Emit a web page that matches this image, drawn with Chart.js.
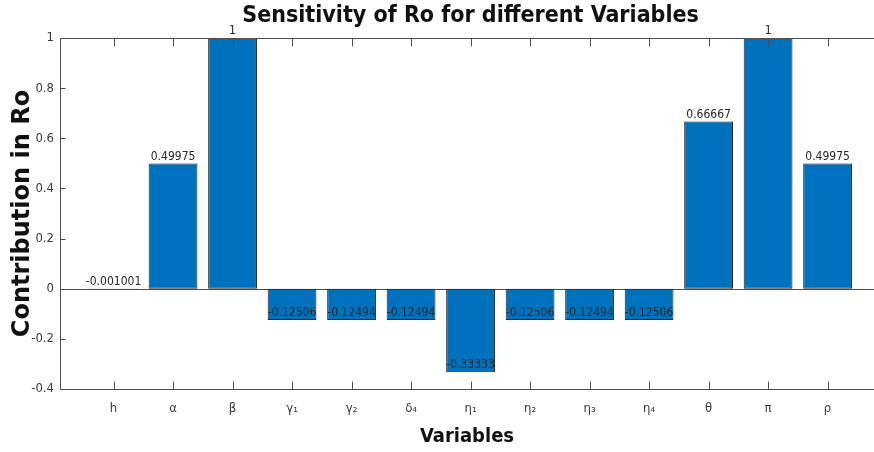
<!DOCTYPE html>
<html>
<head>
<meta charset="utf-8">
<script src="https://cdn.jsdelivr.net/npm/chart.js@4.4.1/dist/chart.umd.min.js"></script>
<style>
  html, body { margin: 0; padding: 0; background: #fff; }
  #wrap { width: 874px; height: 452px; }
</style>
</head>
<body>
<div id="wrap"><canvas id="chart" width="874" height="452"></canvas></div>
<script>
const variables = ['h', 'α', 'β', 'γ₁', 'γ₂', 'δ₄', 'η₁', 'η₂', 'η₃', 'η₄', 'θ', 'π', 'ρ'];
const contribution = [-0.001001, 0.49975, 1, -0.12506, -0.12494, -0.12494, -0.33333, -0.12506, -0.12494, -0.12506, 0.66667, 1, 0.49975];
const yTicks = [-0.4, -0.2, 0, 0.2, 0.4, 0.6, 0.8, 1];

const AXIS_COLOR = '#4d4d4d';
const TEXT_COLOR = '#3a3a3a';
const THIN_FONT = '"DejaVu Sans Condensed", "Liberation Sans Narrow", "DejaVu Sans", sans-serif';
const BOLD_NARROW = '"Liberation Sans Narrow", "DejaVu Sans Condensed", "DejaVu Sans", sans-serif';

// matlab style axes: box, inward ticks, zero baseline, bar value labels, title
const matlabAxes = {
  id: 'matlabAxes',
  beforeDatasetsDraw(chart) {
    const { ctx, chartArea: a, scales: { y } } = chart;
    const y0 = Math.round(y.getPixelForValue(0)) + 0.5;
    ctx.save();
    ctx.strokeStyle = AXIS_COLOR;
    ctx.lineWidth = 1;
    ctx.beginPath();
    ctx.moveTo(a.left, y0);
    ctx.lineTo(a.right, y0);
    ctx.stroke();
    ctx.restore();
  },
  afterDatasetsDraw(chart) {
    const { ctx, scales: { y } } = chart;
    const meta = chart.getDatasetMeta(0);
    ctx.save();
    ctx.font = '12px ' + THIN_FONT;
    ctx.fillStyle = '#262626';
    ctx.textAlign = 'center';
    ctx.textBaseline = 'bottom';
    meta.data.forEach((bar, i) => {
      const v = contribution[i];
      ctx.fillText(String(v), bar.x, y.getPixelForValue(v) - 1);
    });
    ctx.restore();
  },
  afterDraw(chart) {
    const { ctx, chartArea: a, scales: { x, y } } = chart;
    const L = Math.round(a.left) + 0.5;
    const T = Math.round(a.top) + 0.5;
    const B = Math.round(a.bottom) + 0.5;
    ctx.save();
    ctx.strokeStyle = AXIS_COLOR;
    ctx.lineWidth = 1;
    ctx.beginPath();
    ctx.moveTo(a.right, T);
    ctx.lineTo(L, T);
    ctx.lineTo(L, B);
    ctx.lineTo(a.right, B);
    y.ticks.forEach(t => {
      const py = Math.round(y.getPixelForValue(t.value)) + 0.5;
      ctx.moveTo(L, py);
      ctx.lineTo(L + 5, py);
    });
    x.ticks.forEach(t => {
      const px = Math.round(x.getPixelForValue(t.value)) + 0.5;
      ctx.moveTo(px, B);
      ctx.lineTo(px, B - 8);
      ctx.moveTo(px, T);
      ctx.lineTo(px, T + 8);
    });
    ctx.stroke();

    ctx.font = 'bold 23px ' + BOLD_NARROW;
    ctx.fillStyle = '#111';
    ctx.textAlign = 'center';
    ctx.textBaseline = 'middle';
    ctx.fillText('Sensitivity of Ro for different Variables', x.getPixelForValue(7), 16);
    ctx.restore();
  }
};

new Chart(document.getElementById('chart'), {
  type: 'bar',
  data: {
    datasets: [{
      data: contribution.map((v, i) => ({ x: i + 1, y: v })),
      backgroundColor: '#0072BD',
      borderColor: '#1a1f26',
      borderWidth: 1,
      borderSkipped: false,
      categoryPercentage: 0.82,
      barPercentage: 1
    }]
  },
  options: {
    responsive: false,
    animation: false,
    devicePixelRatio: 1,
    layout: { padding: { top: 38, left: 0, right: 0, bottom: 0 } },
    plugins: {
      legend: { display: false },
      tooltip: { enabled: false },
      title: { display: false }
    },
    scales: {
      x: {
        type: 'linear',
        offset: false,
        min: 0.1,
        max: 13.78,
        grid: { display: false, drawTicks: false },
        border: { display: false },
        afterBuildTicks(s) { s.ticks = variables.map((_, i) => ({ value: i + 1 })); },
        afterFit(s) { s.height = 63; },
        ticks: {
          autoSkip: false,
          maxRotation: 0,
          padding: 12,
          color: TEXT_COLOR,
          font: { family: THIN_FONT, size: 13 },
          callback: (v, i) => variables[i]
        },
        title: {
          display: true,
          text: 'Variables',
          color: '#111',
          padding: { top: 0, bottom: 3 },
          font: { family: BOLD_NARROW, size: 20, weight: 'bold' }
        }
      },
      y: {
        min: -0.4,
        max: 1,
        grid: { display: false, drawTicks: false },
        border: { display: false },
        afterBuildTicks(s) { s.ticks = yTicks.map(v => ({ value: v })); },
        afterFit(s) { s.width = 60; },
        ticks: {
          padding: 6,
          color: TEXT_COLOR,
          font: { family: THIN_FONT, size: 13 },
          callback: v => String(+v.toFixed(1))
        },
        title: {
          display: true,
          text: 'Contribution in Ro',
          color: '#111',
          padding: { top: 8, bottom: 0 },
          font: { family: '"DejaVu Sans", sans-serif', size: 24, weight: 'bold' }
        }
      }
    }
  },
  plugins: [matlabAxes]
});
</script>
</body>
</html>
